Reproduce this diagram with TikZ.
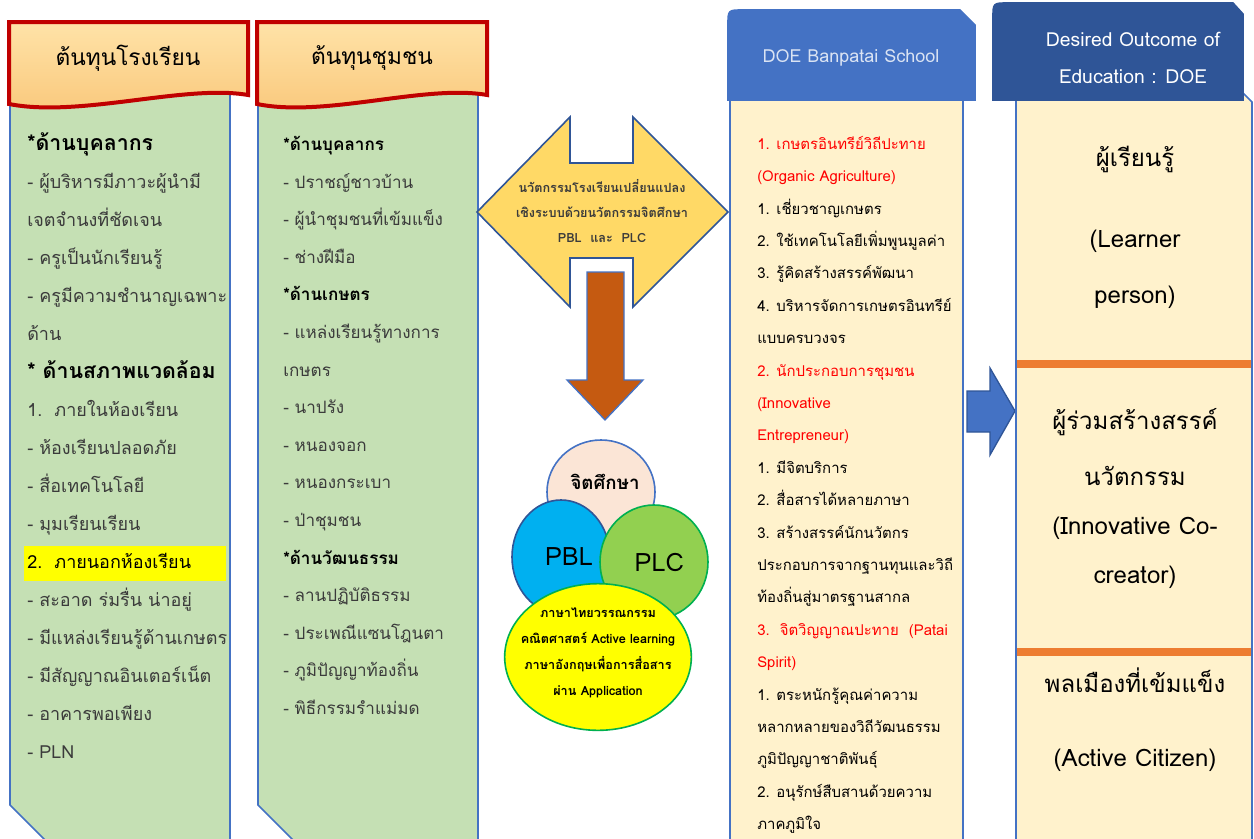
\documentclass[tikz,border=0pt]{standalone}
\usepackage{fontspec}
\newfontfamily\thaifont[Script=Thai]{Loma}
\usetikzlibrary{shapes.geometric}

\definecolor{capred}{HTML}{C00000}
\definecolor{captop}{HTML}{FFE3A8}
\definecolor{capbot}{HTML}{F9C77A}
\definecolor{sidegreen}{HTML}{C5E0B4}
\definecolor{lineblue}{HTML}{4472C4}
\definecolor{deepblue}{HTML}{2F5597}
\definecolor{cream}{HTML}{FFF2CC}
\definecolor{bandorange}{HTML}{ED7D31}
\definecolor{arrowgold}{HTML}{FFD966}
\definecolor{arrowbrown}{HTML}{C55A11}
\definecolor{peach}{HTML}{FBE5D6}
\definecolor{pblblue}{HTML}{00B0F0}
\definecolor{plcgreen}{HTML}{92D050}
\definecolor{rimgreen}{HTML}{00B050}
\definecolor{listgray}{HTML}{3B3B3B}
\definecolor{paleblue}{HTML}{DAE3F3}
\definecolor{markyellow}{HTML}{FFFF00}
\definecolor{alertred}{HTML}{FF0000}

\begin{document}
\begin{tikzpicture}[x=0.75pt,y=-0.75pt,
  every node/.style={font=\thaifont,inner sep=0pt},
  capbox/.style={draw=capred,line width=3pt,top color=captop,bottom color=capbot},
  sidebox/.style={draw=lineblue,line width=1.2pt,fill=sidegreen},
  doebox/.style={draw=lineblue,line width=1.2pt,fill=cream},
  captitle/.style={font=\thaifont\fontsize{17}{20}\selectfont},
  listtext/.style={align=left,anchor=north west,text=listgray,
    font=\thaifont\fontsize{13.5}{28.5}\selectfont},
  doetext/.style={align=left,anchor=north west,
    font=\thaifont\fontsize{11.2}{24.3}\selectfont},
  outtext/.style={align=center,anchor=north,
    font=\thaifont\fontsize{18}{42}\selectfont},
  ring/.style={ellipse,line width=1.2pt}]
\useasboundingbox (0,0) rectangle (1254,839);
\clip (0,0) rectangle (1254,839);

\path[sidebox] (10,95) -- (10,805) -- (46,841) -- (230,841) -- (230,95);
\path[capbox] (9,22) -- (248,22) -- (248,95) .. controls (185,84) and (80,118) .. (9,104) -- cycle;
\node[captitle] (schoolcap) at (128,58) {ต้นทุนโรงเรียน};
\fill[markyellow] (24,546) rectangle (226,581);
\node[listtext] (schoollist) at (27,132) {%
{\fontsize{16}{28.5}\selectfont\bfseries\color{black}*ด้านบุคลากร}\\
- ผู้บริหารมีภาวะผู้นำมี\\
เจตจำนงที่ชัดเจน\\
- ครูเป็นนักเรียนรู้\\
- ครูมีความชำนาญเฉพาะ\\
ด้าน\\
{\fontsize{16}{28.5}\selectfont\bfseries\color{black}* ด้านสภาพแวดล้อม}\\
1.\ \ ภายในห้องเรียน\\
- ห้องเรียนปลอดภัย\\
- สื่อเทคโนโลยี\\
- มุมเรียนเรียน\\
{\color{black}2.\ \ ภายนอกห้องเรียน}\\
- สะอาด ร่มรื่น น่าอยู่\\
- มีแหล่งเรียนรู้ด้านเกษตร\\
- มีสัญญาณอินเตอร์เน็ต\\
- อาคารพอเพียง\\
- PLN};

\path[sidebox] (258,95) -- (258,805) -- (294,841) -- (478,841) -- (478,95);
\path[capbox] (257,22) -- (487,22) -- (487,95) .. controls (425,84) and (325,118) .. (257,104) -- cycle;
\node[captitle] (villagecap) at (372,58) {ต้นทุนชุมชน};
\node[listtext,font=\thaifont\fontsize{12.8}{28.2}\selectfont] (villagelist) at (283,136) {%
{\bfseries\color{black}*ด้านบุคลากร}\\
- ปราชญ์ชาวบ้าน\\
- ผู้นำชุมชนที่เข้มแข็ง\\
- ช่างฝีมือ\\
{\bfseries\color{black}*ด้านเกษตร}\\
- แหล่งเรียนรู้ทางการ\\
เกษตร\\
- นาปรัง\\
- หนองจอก\\
- หนองกระเบา\\
- ป่าชุมชน\\
{\bfseries\color{black}*ด้านวัฒนธรรม}\\
- ลานปฏิบัติธรรม\\
- ประเพณีแซนโฎนตา\\
- ภูมิปัญญาท้องถิ่น\\
- พิธีกรรมรำแม่มด};

\path[draw=deepblue,line width=1.2pt,fill=arrowgold] (477,212) -- (570,117) -- (570,163)
  -- (633,163) -- (633,117) -- (728,212) -- (633,307) -- (633,258) -- (570,258)
  -- (570,307) -- cycle;
\node[align=center,font=\thaifont\fontsize{9.5}{18.5}\selectfont\bfseries,text=listgray]
  (reformtext) at (602,211) {นวัตกรรมโรงเรียนเปลี่ยนแปลง\\เชิงระบบด้วยนวัตกรรมจิตศึกษา\\PBL\ \ และ\ \ PLC};
\path[draw=lineblue,line width=1pt,fill=arrowbrown] (587,272) -- (624,272) -- (624,380)
  -- (643,380) -- (605,420) -- (567,380) -- (587,380) -- cycle;

\node[ring,draw=lineblue,fill=peach,minimum width=81pt,minimum height=78pt,
  label={[font=\thaifont\fontsize{14}{16}\selectfont\bfseries,yshift=7.5pt,xshift=3pt]center:จิตศึกษา}]
  (mindring) at (601,492) {};
\node[ring,draw=deepblue,fill=pblblue,minimum width=73.5pt,minimum height=85.5pt,
  label={[font=\thaifont\fontsize{19}{20}\selectfont,xshift=6pt]center:PBL}]
  (pblring) at (561,557) {};
\node[ring,draw=rimgreen,fill=plcgreen,minimum width=81pt,minimum height=85.5pt,
  label={[font=\thaifont\fontsize{19}{20}\selectfont,xshift=4pt]center:PLC}]
  (plcring) at (654,562) {};
\node[ring,draw=rimgreen,fill=markyellow,minimum width=140pt,minimum height=110pt,
  label={[align=center,font=\thaifont\fontsize{9.5}{19.5}\selectfont\bfseries,yshift=3pt]center:ภาษาไทยวรรณกรรม\\คณิตศาสตร์ Active learning\\ภาษาอังกฤษเพื่อการสื่อสาร\\ผ่าน Application}]
  (skillring) at (598,657) {};

\path[doebox] (730,100) -- (963,100) -- (963,850) -- (730,850) -- cycle;
\path[draw=lineblue,line width=1.2pt,fill=lineblue] (728,100) -- (728,25) .. controls (728,10) .. (743,10)
  -- (960,10) -- (975,25) -- (975,100) -- cycle;
\node[font=\thaifont\fontsize{13.5}{15}\selectfont,text=paleblue] (doecap) at (851,58) {DOE Banpatai School};
\node[doetext] (doelist) at (757,136) {%
{\color{alertred}1. เกษตรอินทรีย์วิถีปะทาย}\\
{\color{alertred}(Organic Agriculture)}\\
1. เชี่ยวชาญเกษตร\\
2. ใช้เทคโนโลยีเพิ่มพูนมูลค่า\\
3. รู้คิดสร้างสรรค์พัฒนา\\
4. บริหารจัดการเกษตรอินทรีย์\\
แบบครบวงจร\\
{\color{alertred}2. นักประกอบการชุมชน}\\
{\color{alertred}(Innovative}\\
{\color{alertred}Entrepreneur)}\\
1. มีจิตบริการ\\
2. สื่อสารได้หลายภาษา\\
3. สร้างสรรค์นักนวัตกร\\
ประกอบการจากฐานทุนและวิถี\\
ท้องถิ่นสู่มาตรฐานสากล\\
{\color{alertred}3.\ \ จิตวิญญาณปะทาย\ \ (Patai}\\
{\color{alertred}Spirit)}\\
1. ตระหนักรู้คุณค่าความ\\
หลากหลายของวิถีวัฒนธรรม\\
ภูมิปัญญาชาติพันธุ์\\
2. อนุรักษ์สืบสานด้วยความ\\
ภาคภูมิใจ};

\path[draw=deepblue,line width=1pt,fill=lineblue] (967,391) -- (990,391) -- (990,368)
  -- (1015,411) -- (990,455) -- (990,432) -- (967,432) -- cycle;

\path[doebox] (1016,93) -- (1243,93) -- (1252,102) -- (1252,850) -- (1016,850) -- cycle;
\path[draw=deepblue,line width=1.2pt,fill=deepblue] (993,100) -- (993,18) .. controls (993,3) .. (1008,3)
  -- (1233,3) -- (1243,14) -- (1243,100) -- cycle;
\node[align=center,font=\thaifont\fontsize{14.5}{28}\selectfont,text=white] (outcap) at (1133,58)
  {Desired Outcome of\\Education : DOE};
\draw[bandorange,line width=6pt] (1017,364) -- (1251,364);
\draw[bandorange,line width=6pt] (1017,652) -- (1251,652);
\node[outtext] (outlearner) at (1135,146) {ผู้เรียนรู้\\[19pt](Learner\\person)};
\node[outtext] (outcreator) at (1135,408) {ผู้ร่วมสร้างสรรค์\\[0pt]นวัตกรรม\\[-5pt](Innovative Co-\\[-5pt]creator)};
\node[outtext] (outcitizen) at (1135,668) {พลเมืองที่เข้มแข็ง\\[13pt](Active Citizen)};
\end{tikzpicture}
\end{document}
